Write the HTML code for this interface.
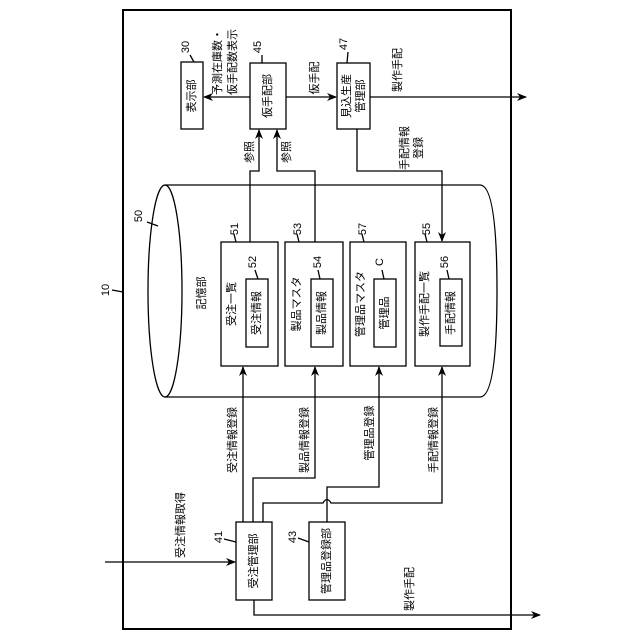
<!DOCTYPE html>
<html><head><meta charset="utf-8"><style>
html,body{margin:0;padding:0;background:#fff}
svg{display:block}
text{font-family:"Liberation Sans","Noto Sans CJK JP",sans-serif;font-size:11px;fill:#000;text-anchor:middle;dominant-baseline:central}
</style></head><body>
<svg width="640" height="640" viewBox="0 0 640 640" xmlns="http://www.w3.org/2000/svg">
<defs><marker id="a" markerWidth="10" markerHeight="8" refX="9" refY="4" orient="auto" markerUnits="userSpaceOnUse"><path d="M0,0 L10,4 L0,8 L3,4 Z" fill="#000"/></marker></defs>
<g fill="none" stroke="#000" stroke-width="1.3">
<rect x="123" y="10" width="388" height="619" stroke-width="2"/>
<rect x="181" y="62" width="22" height="67"/>
<rect x="250" y="63" width="36" height="66"/>
<rect x="337" y="63" width="33" height="66"/>
<line x1="250" y1="97" x2="204" y2="97" marker-end="url(#a)"/>
<line x1="286" y1="97" x2="336" y2="97" marker-end="url(#a)"/>
<line x1="370" y1="97" x2="526" y2="97" marker-end="url(#a)"/>
<path d="M165,185 L480,185 Q497,185 497,291 Q497,397 480,397 L165,397"/>
<ellipse cx="165" cy="291" rx="17" ry="106"/>
<rect x="221" y="242" width="57" height="124"/>
<rect x="246" y="279" width="22" height="68"/>
<rect x="285" y="242" width="58" height="124"/>
<rect x="311" y="279" width="22" height="68"/>
<rect x="350" y="242" width="56" height="124"/>
<rect x="374" y="279" width="22" height="68"/>
<rect x="415" y="242" width="55" height="124"/>
<rect x="440" y="279" width="22" height="67"/>
<polyline points="250,242 250,171 259,171 259,130" marker-end="url(#a)"/>
<polyline points="315,242 315,171 277,171 277,130" marker-end="url(#a)"/>
<polyline points="357,129 357,171 442,171 442,241" marker-end="url(#a)"/>
<rect x="236" y="522" width="36" height="78"/>
<rect x="309" y="522" width="36" height="78"/>
<line x1="243" y1="522" x2="243" y2="367" marker-end="url(#a)"/>
<polyline points="253,522 253,478 315,478 315,367" marker-end="url(#a)"/>
<polyline points="327,522 327,487 379,487 379,367" marker-end="url(#a)"/>
<path d="M263,522 L263,503 L323,503 Q327,496 331,503 L442,503 L442,367" marker-end="url(#a)"/>
<line x1="105" y1="562" x2="235" y2="562" marker-end="url(#a)"/>
<polyline points="254,600 254,615 540,615" marker-end="url(#a)"/>
<path d="M112,290 L123,292 M190,55 L194,62 M262,55 L262,63 M348,52 L347,63 M147,222 L158,226 M234,234 L236,242 M297,234 L299,242 M362,234 L364,242 M425,234 L427,242 M255,270 L258,279 M318,270 L320,279 M382,270 L384,279 M447,270 L449,279 M224,539 L236,542 M298,538 L309,542"/>
</g>
<g>
<text transform="translate(106,290) rotate(-90)">10</text>
<text transform="translate(186,47) rotate(-90)">30</text>
<text transform="translate(258,47) rotate(-90)">45</text>
<text transform="translate(344,44) rotate(-90)">47</text>
<text transform="translate(192,96) rotate(-90)">表示部</text>
<text transform="translate(268,96) rotate(-90)">仮手配部</text>
<text transform="translate(347,96) rotate(-90)">見込生産</text>
<text transform="translate(361,96) rotate(-90)">管理部</text>
<text transform="translate(218,62) rotate(-90)">予測在庫数・</text>
<text transform="translate(233,62) rotate(-90)">仮手配数表示</text>
<text transform="translate(315,78) rotate(-90)">仮手配</text>
<text transform="translate(398,70) rotate(-90)">製作手配</text>
<text transform="translate(250,152) rotate(-90)">参照</text>
<text transform="translate(287,152) rotate(-90)">参照</text>
<text transform="translate(405,148) rotate(-90)">手配情報</text>
<text transform="translate(419,148) rotate(-90)">登録</text>
<text transform="translate(139,216) rotate(-90)">50</text>
<text transform="translate(202,293) rotate(-90)">記憶部</text>
<text transform="translate(235,229) rotate(-90)">51</text>
<text transform="translate(298,229) rotate(-90)">53</text>
<text transform="translate(363,229) rotate(-90)">57</text>
<text transform="translate(427,229) rotate(-90)">55</text>
<text transform="translate(253,262) rotate(-90)">52</text>
<text transform="translate(318,262) rotate(-90)">54</text>
<text transform="translate(380,262) rotate(-90)">C</text>
<text transform="translate(445,262) rotate(-90)">56</text>
<text transform="translate(232,304) rotate(-90)">受注一覧</text>
<text transform="translate(297,304) rotate(-90)">製品マスタ</text>
<text transform="translate(361,304) rotate(-90)">管理品マスタ</text>
<text transform="translate(425,304) rotate(-90)">製作手配一覧</text>
<text transform="translate(257,313) rotate(-90)">受注情報</text>
<text transform="translate(322,313) rotate(-90)">製品情報</text>
<text transform="translate(385,313) rotate(-90)">管理品</text>
<text transform="translate(451,313) rotate(-90)">手配情報</text>
<text transform="translate(233,440) rotate(-90)">受注情報登録</text>
<text transform="translate(305,440) rotate(-90)">製品情報登録</text>
<text transform="translate(370,433) rotate(-90)">管理品登録</text>
<text transform="translate(434,440) rotate(-90)">手配情報登録</text>
<text transform="translate(181,525) rotate(-90)">受注情報取得</text>
<text transform="translate(219,537) rotate(-90)">41</text>
<text transform="translate(293,537) rotate(-90)">43</text>
<text transform="translate(254,561) rotate(-90)">受注管理部</text>
<text transform="translate(327,561) rotate(-90)">管理品登録部</text>
<text transform="translate(410,589) rotate(-90)">製作手配</text>
</g>
</svg>
</body></html>
